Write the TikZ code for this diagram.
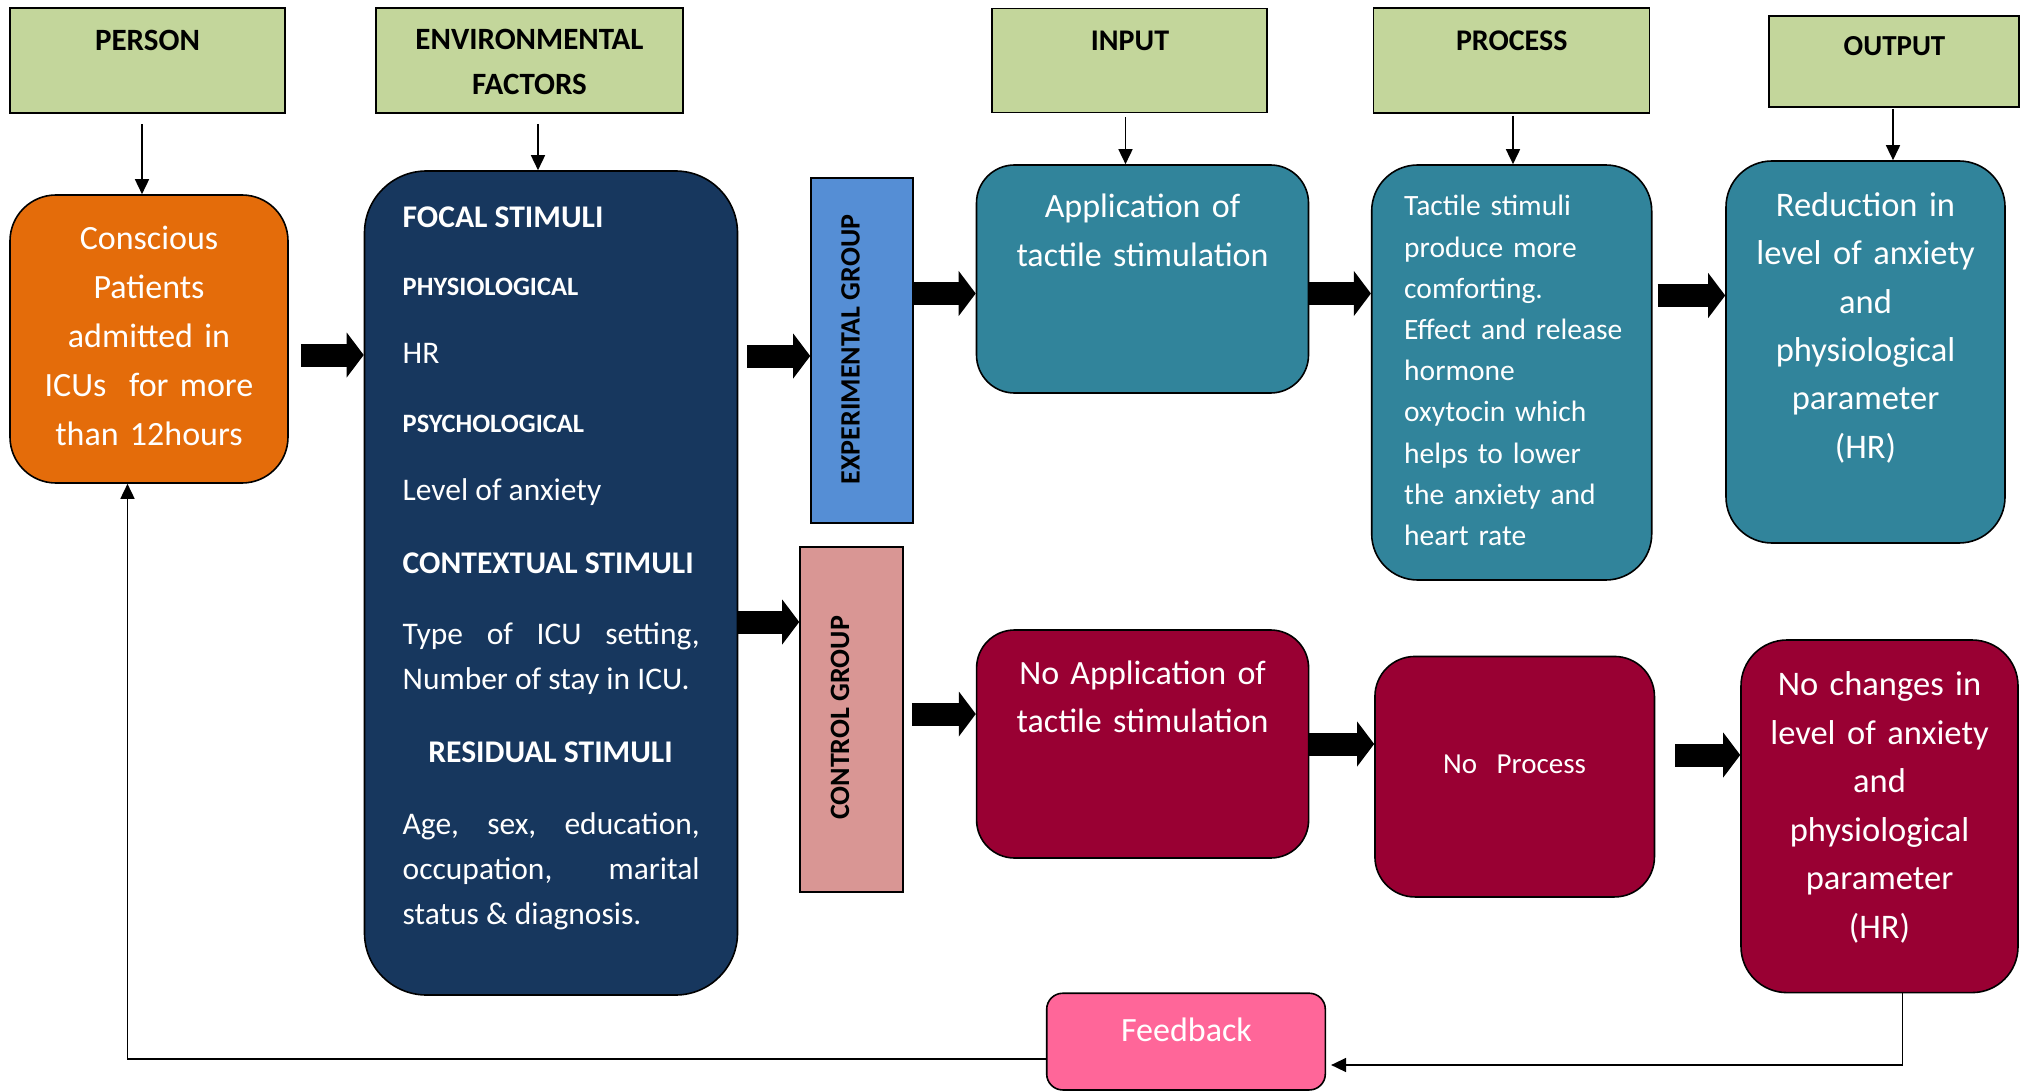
\documentclass[tikz,border=0pt]{standalone}
\usepackage{fontspec}
\setmainfont{Carlito}
\usepackage{xcolor}
\usetikzlibrary{arrows.meta,positioning,calc}

\definecolor{hdgreen}{HTML}{C3D69B}
\definecolor{personorange}{HTML}{E46C0A}
\definecolor{envnavy}{HTML}{17375E}
\definecolor{expblue}{HTML}{558ED5}
\definecolor{ctrlpink}{HTML}{D99694}
\definecolor{expteal}{HTML}{31849B}
\definecolor{ctrlred}{HTML}{990033}
\definecolor{fbpink}{HTML}{FF6699}

\tolerance=10000
\hyphenpenalty=10000
\hbadness=10000

\begin{document}
\begin{tikzpicture}[
			x=1pt,y=-1pt,
			hdblock/.style={draw, line width=1.8pt, fill=hdgreen, inner sep=0pt},
			rblock/.style={draw, line width=1.6pt, inner sep=0pt},
			grpblock/.style={draw, line width=1.6pt, inner sep=0pt, minimum width=102pt, minimum height=345pt},
			hdtext/.style={inner sep=0pt, anchor=base, align=center, text width=250pt, font=\bfseries\fontsize{31}{45}\selectfont},
			bigtext/.style={inner sep=0pt, anchor=base, align=center, text width=260pt, text=white, font=\fontsize{34.5}{48.7}\selectfont},
			smalltext/.style={inner sep=0pt, text=white, font=\fontsize{29.5}{41.2}\selectfont},
			stimhead/.style={inner sep=0pt, anchor=base west, text=white, font=\bfseries\fontsize{31.6}{45}\selectfont},
			stimsub/.style={inner sep=0pt, anchor=base west, text=white, font=\bfseries\fontsize{26.5}{45}\selectfont},
			stimtext/.style={inner sep=0pt, anchor=base west, text=white, text width=297pt, align=justify, font=\fontsize{31.5}{45}\selectfont},
			grptext/.style={inner sep=0pt, rotate=90, font=\bfseries\fontsize{28}{34}\selectfont},
			blockarr/.style={line width=23pt, -{Triangle[length=17pt,width=45pt,line width=0pt]}},
			thinarr/.style={line width=1.6pt, -{Triangle[length=15pt,width=14pt]}}
			]
			
			\useasboundingbox (0,0) rectangle (2028,1091);
			
			% Header boxes
			\node[hdblock, minimum width=275pt, minimum height=105pt] (person) at (147.5,60.7) {};
			\node[hdblock, minimum width=307pt, minimum height=105pt] (envf) at (529.5,60.5) {};
			\node[hdblock, minimum width=275pt, minimum height=104pt] (input) at (1129.5,60.5) {};
			\node[hdblock, minimum width=276pt, minimum height=105pt] (process) at (1511.5,60.5) {};
			\node[hdblock, minimum width=250pt, minimum height=91pt] (output) at (1894,61.5) {};
			\node[hdtext] (personlbl) at (147.5,50.5) {PERSON};
			\node[hdtext] (envlbl) at (529.5,50) {ENVIRONMENTAL\\FACTORS};
			\node[hdtext, font=\bfseries\fontsize{30}{45}\selectfont] (inputlbl) at (1130,50.7) {INPUT};
			\node[hdtext, font=\bfseries\fontsize{30}{45}\selectfont] (processlbl) at (1511.7,50.7) {PROCESS};
			\node[hdtext, font=\bfseries\fontsize{29}{45}\selectfont] (outputlbl) at (1894.5,56) {OUTPUT};
			
			% Person
			\node[rblock, fill=personorange, rounded corners=46pt, minimum width=278pt, minimum height=288pt] (conscious) at (149,339) {};
			\node[bigtext, font=\fontsize{34}{48.8}\selectfont] (conscioustxt) at (149,250) {Conscious\\Patients\\admitted in\\ICUs\ \ for more\\than 12hours};
			
			% Environmental stimuli
			\node[rblock, fill=envnavy, rounded corners=62pt, minimum width=373pt, minimum height=824pt] (stimuli) at (551,583) {};
			\node[stimhead] (focal) at (402.5,228) {FOCAL STIMULI};
			\node[stimsub] (physio) at (402.5,295) {PHYSIOLOGICAL};
			\node[stimtext] (hr) at (402.5,363) {HR};
			\node[stimsub] (psycho) at (402.5,432) {PSYCHOLOGICAL};
			\node[stimtext] (anxiety) at (402.5,500) {Level of anxiety};
			\node[stimhead] (contextual) at (402.5,573) {CONTEXTUAL STIMULI};
			\node[stimtext] (contexttxt) at (402.5,644) {Type of ICU setting, Number of stay in ICU.};
			\node[stimhead, anchor=base] (residual) at (550.5,762) {RESIDUAL STIMULI};
			\node[stimtext] (residualtxt) at (402.5,834) {Age, sex, education, occupation, marital status \& diagnosis.};
			
			% Groups
			\node[grpblock, fill=expblue] (expgrp) at (862,350.5) {};
			\node[grptext] (expgrplbl) at (850.5,349.5) {EXPERIMENTAL GROUP};
			\node[grpblock, fill=ctrlpink, minimum width=103pt] (ctrlgrp) at (851.5,719.5) {};
			\node[grptext] (ctrlgrplbl) at (840,718) {CONTROL GROUP};
			
			% Experimental branch
			\node[rblock, fill=expteal, rounded corners=38pt, minimum width=332pt, minimum height=228pt] (apply) at (1142.5,279) {};
			\node[bigtext, font=\fontsize{34}{49}\selectfont] (applytxt) at (1142.5,218) {Application of\\tactile stimulation};
			\node[rblock, fill=expteal, rounded corners=46pt, minimum width=280pt, minimum height=415pt] (tactile) at (1511.7,372.5) {};
			\node[smalltext, anchor=base west, text width=245pt, align=left] (tactiletxt) at (1404,216) {Tactile stimuli\\produce more\\comforting.\\Effect and release\\hormone\\oxytocin which\\helps to lower\\the anxiety and\\heart rate};
			\node[rblock, fill=expteal, rounded corners=46pt, minimum width=279pt, minimum height=382pt] (reduce) at (1865.5,352) {};
			\node[bigtext, font=\fontsize{34.5}{48.3}\selectfont] (reducetxt) at (1865.5,216.7) {Reduction in\\level of anxiety\\and\\physiological\\parameter\\(HR)};
			
			% Control branch
			\node[rblock, fill=ctrlred, rounded corners=38pt, minimum width=332pt, minimum height=228pt] (noapply) at (1142.6,744) {};
			\node[bigtext, font=\fontsize{34}{48}\selectfont] (noapplytxt) at (1142.6,684) {No Application of\\tactile stimulation};
			\node[rblock, fill=ctrlred, rounded corners=40pt, minimum width=279.5pt, minimum height=240.5pt] (noproc) at (1514.7,776.7) {};
			\node[smalltext, anchor=base, font=\fontsize{29}{40}\selectfont] (noproctxt) at (1514.5,773) {No\ \ \ Process};
			\node[rblock, fill=ctrlred, rounded corners=46pt, minimum width=277pt, minimum height=352.6pt] (nochange) at (1879.5,816.3) {};
			\node[bigtext, font=\fontsize{34.5}{48.6}\selectfont] (nochangetxt) at (1879.5,695.4) {No changes in\\level of anxiety\\and\\physiological\\parameter\\(HR)};
			
			% Feedback
			\node[rblock, fill=fbpink, rounded corners=16pt, minimum width=278.6pt, minimum height=96.7pt] (feedback) at (1186,1041.6) {};
			\node[bigtext, font=\fontsize{34}{48}\selectfont] (feedbacktxt) at (1186.5,1041.7) {Feedback};
			
			% Header arrows
			\draw[thinarr] ([xshift=-5.5pt,yshift=-10pt]person.south) -- ([xshift=-5.5pt]person.south |- conscious.north);
			\draw[thinarr] ([xshift=8.5pt,yshift=-10pt]envf.south) -- ([xshift=8.5pt]envf.south |- stimuli.north);
			\draw[thinarr] ([xshift=-4pt,yshift=-3.5pt]input.south) -- ([xshift=-4pt]input.south |- apply.north);
			\draw[thinarr] ([xshift=1.5pt,yshift=-2pt]process.south) -- ([xshift=1.5pt]process.south |- tactile.north);
			\draw[thinarr] ([xshift=-1pt,yshift=-1pt]output.south) -- ([xshift=-1pt]output.south |- reduce.north);
			
			% Block arrows
			\draw[blockarr] ([xshift=12pt,yshift=-16pt]conscious.east) -- ([yshift=-16pt]conscious.east -| stimuli.west);
			\draw[blockarr] ([xshift=9pt,yshift=227pt]stimuli.east) -- ([yshift=227pt]stimuli.east -| expgrp.west);
			\draw[blockarr] ([yshift=-39pt]stimuli.east) -- ([yshift=-39pt]stimuli.east -| ctrlgrp.west);
			\draw[blockarr] ([yshift=57pt]expgrp.east) -- ([yshift=57pt]expgrp.east -| apply.west);
			\draw[blockarr] ([yshift=-14.5pt]apply.east) -- ([yshift=-14.5pt]apply.east -| tactile.west);
			\draw[blockarr] ([xshift=5pt,yshift=77pt]tactile.east) -- ([yshift=77pt]tactile.east -| reduce.west);
			\draw[blockarr] ([xshift=8pt,yshift=5.5pt]ctrlgrp.east) -- ([yshift=5.5pt]ctrlgrp.east -| noapply.west);
			\draw[blockarr] (noapply.east) -- (noapply.east -| noproc.west);
			\draw[blockarr] ([xshift=20pt,yshift=21.7pt]noproc.east) -- ([yshift=21.7pt]noproc.east -| nochange.west);
			
			% Feedback loop
			\draw[thinarr, shorten >=5pt] ([xshift=23pt]nochange.south) |- ([yshift=-23.4pt]feedback.east);
			\draw[thinarr] ([yshift=-17.4pt]feedback.west) -| ([xshift=-21.5pt]conscious.south);
			
		\end{tikzpicture}
\end{document}
